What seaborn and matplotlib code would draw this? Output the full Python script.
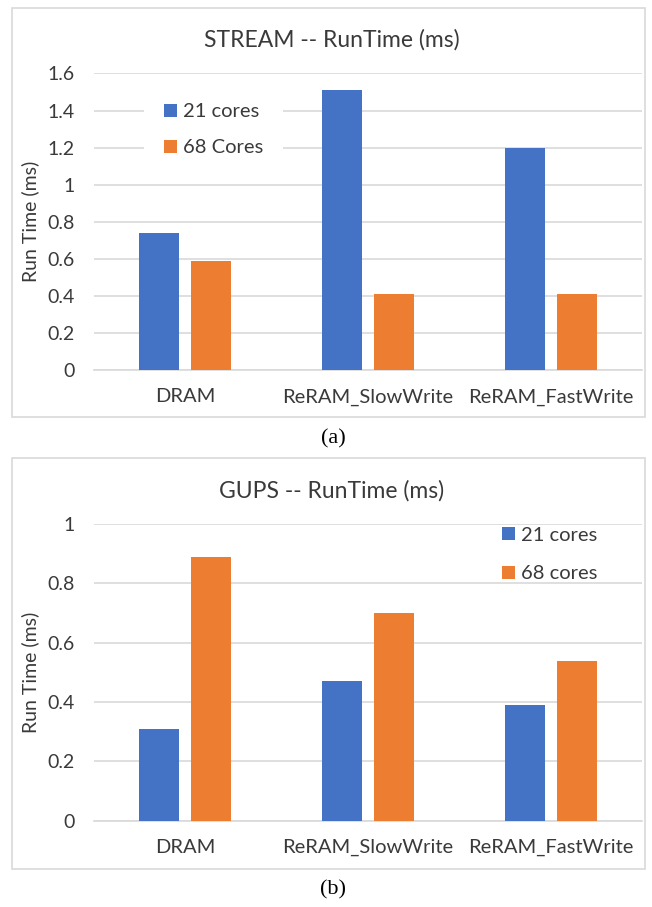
import matplotlib
matplotlib.use("Agg")
import matplotlib.pyplot as plt
import seaborn as sns
import pandas as pd
from matplotlib.patches import Rectangle

# ---- data ----
categories = ["DRAM", "ReRAM_SlowWrite", "ReRAM_FastWrite"]
stream_21 = [0.74, 1.51, 1.20]
stream_68 = [0.59, 0.41, 0.41]
gups_21 = [0.31, 0.47, 0.39]
gups_68 = [0.89, 0.70, 0.54]
stream_labels = ["21 cores", "68 Cores"]
gups_labels = ["21 cores", "68 cores"]
stream_yticks = [0, 0.2, 0.4, 0.6, 0.8, 1.0, 1.2, 1.4, 1.6]
stream_yticklabels = ["0", "0.2", "0.4", "0.6", "0.8", "1", "1.2", "1.4", "1.6"]
gups_yticks = [0, 0.2, 0.4, 0.6, 0.8, 1.0]
gups_yticklabels = ["0", "0.2", "0.4", "0.6", "0.8", "1"]
titles = ["STREAM -- RunTime (ms)", "GUPS -- RunTime (ms)"]
captions = ["(a)", "(b)"]
ylabel = "Run Time (ms)"

sns.set_theme(style="white")
plt.rcParams['font.family'] = ['Lato', 'DejaVu Sans']

BLUE = "#4472C4"
ORANGE = "#ED7D31"
GRID = "#d9d9d9"
TXT = "#3a3a3a"

W, H = 652, 907
fig = plt.figure(figsize=(W / 100, H / 100), dpi=100)


def px_axes(x0, y_top, x1, y_bot):
    return fig.add_axes([x0 / W, 1 - y_bot / H, (x1 - x0) / W, (y_bot - y_top) / H])


def make_df(v21, v68, labels):
    return pd.DataFrame({
        "category": categories * 2,
        "series": [labels[0]] * 3 + [labels[1]] * 3,
        "value": list(v21) + list(v68),
    })


def draw(ax, df, labels, yticks, yticklabels, ymax, leg_anchor, framed, bpad, lspace):
    sns.barplot(data=df, x="category", y="value", hue="series", order=categories,
                hue_order=labels, palette=[BLUE, ORANGE], width=0.57, gap=0.23,
                saturation=1, ax=ax, zorder=3, edgecolor="none")
    ax.set_xlim(-0.5, 2.5)
    ax.set_ylim(0, ymax)
    ax.set_yticks(yticks)
    ax.set_yticklabels(yticklabels)
    ax.yaxis.grid(True, color=GRID, linewidth=1.2, zorder=0)
    ax.set_axisbelow(True)
    for s in ["top", "right", "left"]:
        ax.spines[s].set_visible(False)
    ax.spines["bottom"].set_color(GRID)
    ax.spines["bottom"].set_linewidth(1.2)
    ax.tick_params(axis="y", length=0, colors=TXT, labelsize=14, pad=14)
    ax.tick_params(axis="x", length=0, colors=TXT, labelsize=14.5, pad=13)
    ax.set_xlabel("")
    ax.set_ylabel("")
    for t in ax.get_yticklabels() + ax.get_xticklabels():
        t.set_color(TXT)
    handles, labs = ax.get_legend_handles_labels()
    leg = ax.legend(handles, labs, loc="upper left", bbox_to_anchor=leg_anchor,
                    bbox_transform=fig.transFigure, frameon=framed, fancybox=False,
                    framealpha=1, facecolor="white", edgecolor="none",
                    fontsize=14.5, handlelength=0.62, handleheight=0.62,
                    handletextpad=0.3, labelspacing=lspace, borderpad=bpad,
                    borderaxespad=0)
    for t in leg.get_texts():
        t.set_color(TXT)
    leg.set_zorder(5)


# panel (a)
ax1 = px_axes(94, 73.3, 642, 370.3)
draw(ax1, make_df(stream_21, stream_68, stream_labels), stream_labels,
     stream_yticks, stream_yticklabels, 1.6005, (144 / W, 1 - 83 / H), True, 1.0, 0.95)
# panel (b)
ax2 = px_axes(94, 524, 642, 820.7)
draw(ax2, make_df(gups_21, gups_68, gups_labels), gups_labels,
     gups_yticks, gups_yticklabels, 1.0005, (497 / W, 1 - 522 / H), False, 0.25, 1.05)

# borders
for (y0, y1) in [(8, 417), (458, 869)]:
    fig.patches.append(Rectangle((12 / W, 1 - y1 / H), (645 - 12) / W, (y1 - y0) / H,
                                 transform=fig.transFigure, fill=False,
                                 edgecolor=GRID, linewidth=1.2, zorder=0))

# titles, y labels, captions
fig.text(332 / W, 1 - 40 / H, titles[0], ha="center", va="center", fontsize=16.5, color=TXT)
fig.text(332 / W, 1 - 491 / H, titles[1], ha="center", va="center", fontsize=16.5, color=TXT)
fig.text(30 / W, 1 - 221.8 / H, ylabel, rotation=90, ha="center", va="center", fontsize=14, color=TXT)
fig.text(30 / W, 1 - 672.3 / H, ylabel, rotation=90, ha="center", va="center", fontsize=14, color=TXT)
fig.text(333 / W, 1 - 439 / H, captions[0], ha="center", va="center", fontsize=16,
         family=["Liberation Serif", "DejaVu Serif"], color="black")
fig.text(333 / W, 1 - 890 / H, captions[1], ha="center", va="center", fontsize=16,
         family=["Liberation Serif", "DejaVu Serif"], color="black")

fig.savefig("out.png", dpi=100, facecolor="white")
